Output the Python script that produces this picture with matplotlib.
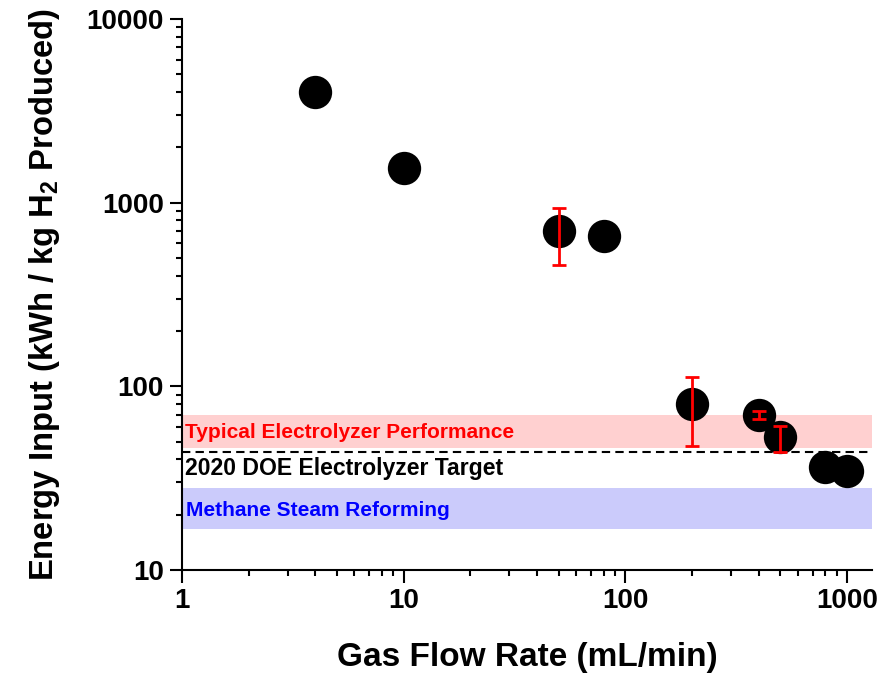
import matplotlib
matplotlib.use('Agg')
import matplotlib.pyplot as plt
from matplotlib.ticker import LogLocator, FixedLocator, NullFormatter

plt.rcParams['font.family'] = ['Liberation Sans', 'DejaVu Sans']
plt.rcParams['font.weight'] = 'bold'
plt.rcParams['mathtext.fontset'] = 'custom'
plt.rcParams['mathtext.rm'] = 'Liberation Sans:bold'
plt.rcParams['mathtext.default'] = 'rm'

# measured points
flow_rate = [4, 10, 50, 80, 200, 400, 500, 800, 1000]
energy = [4000, 1550, 700, 655, 80, 70, 53, 36.5, 34.5]

# points with error bars
err_x = [50, 200, 400, 500]
err_y = [700, 80, 70, 53]
err_low = [245, 32.5, 3.8, 9]
err_high = [240, 32, 3.5, 7.5]

# reference bands / lines
electrolyzer_band = (46, 70)
smr_band = (16.8, 28)
doe_target = 44

fig = plt.figure(figsize=(8.89, 6.75), dpi=100)
ax = fig.add_axes([0.2047, 0.1556, 0.7763, 0.8163])
ax.set_xscale('log')
ax.set_yscale('log')
ax.set_xlim(1, 1300)
ax.set_ylim(10, 10000)

ax.axhspan(*electrolyzer_band, color='#ffd0d0', lw=0, zorder=1)
ax.axhspan(*smr_band, color='#cbcbfb', lw=0, zorder=1)
ax.axhline(doe_target, color='black', lw=1.5, ls=(0, (4, 2.5)), zorder=2)

ax.plot(flow_rate, energy, 'o', color='black', markersize=24, markeredgewidth=0, zorder=3)
ax.errorbar(err_x, err_y, yerr=[err_low, err_high], fmt='none', ecolor='red',
            elinewidth=2, capsize=5, capthick=2, zorder=4)

ax.text(1.03, 56, 'Typical Electrolyzer Performance', color='red', fontsize=15,
        fontweight='bold', va='center', ha='left', zorder=5)
ax.text(1.03, 35.6, '2020 DOE Electrolyzer Target', color='black', fontsize=16.6,
        fontweight='bold', va='center', ha='left', zorder=5)
ax.text(1.04, 21.1, 'Methane Steam Reforming', color='blue', fontsize=15,
        fontweight='bold', va='center', ha='left', zorder=5)

ax.spines['top'].set_visible(False)
ax.spines['right'].set_visible(False)
ax.spines['left'].set_linewidth(1.5)
ax.spines['bottom'].set_linewidth(1.5)

ax.xaxis.set_major_locator(FixedLocator([1, 10, 100, 1000]))
ax.yaxis.set_major_locator(FixedLocator([10, 100, 1000, 10000]))
ax.xaxis.set_major_formatter(plt.FuncFormatter(lambda v, p: '%d' % v))
ax.yaxis.set_major_formatter(plt.FuncFormatter(lambda v, p: '%d' % v))
ax.xaxis.set_minor_locator(LogLocator(base=10, subs=range(2, 10), numticks=20))
ax.yaxis.set_minor_locator(LogLocator(base=10, subs=range(2, 10), numticks=20))
ax.xaxis.set_minor_formatter(NullFormatter())
ax.yaxis.set_minor_formatter(NullFormatter())
ax.tick_params(which='major', direction='out', length=9, width=1.5, labelsize=20, pad=4)
ax.tick_params(which='minor', direction='out', length=4.5, width=1.5)
for lbl in ax.get_xticklabels() + ax.get_yticklabels():
    lbl.set_fontweight('bold')

ax.set_xlabel('Gas Flow Rate (mL/min)', fontsize=24, fontweight='bold', labelpad=20)
ax.set_ylabel('Energy Input (kWh / kg H$_2$ Produced)', fontsize=23.6, fontweight='bold', labelpad=18)

fig.savefig('out.png', dpi=100)
